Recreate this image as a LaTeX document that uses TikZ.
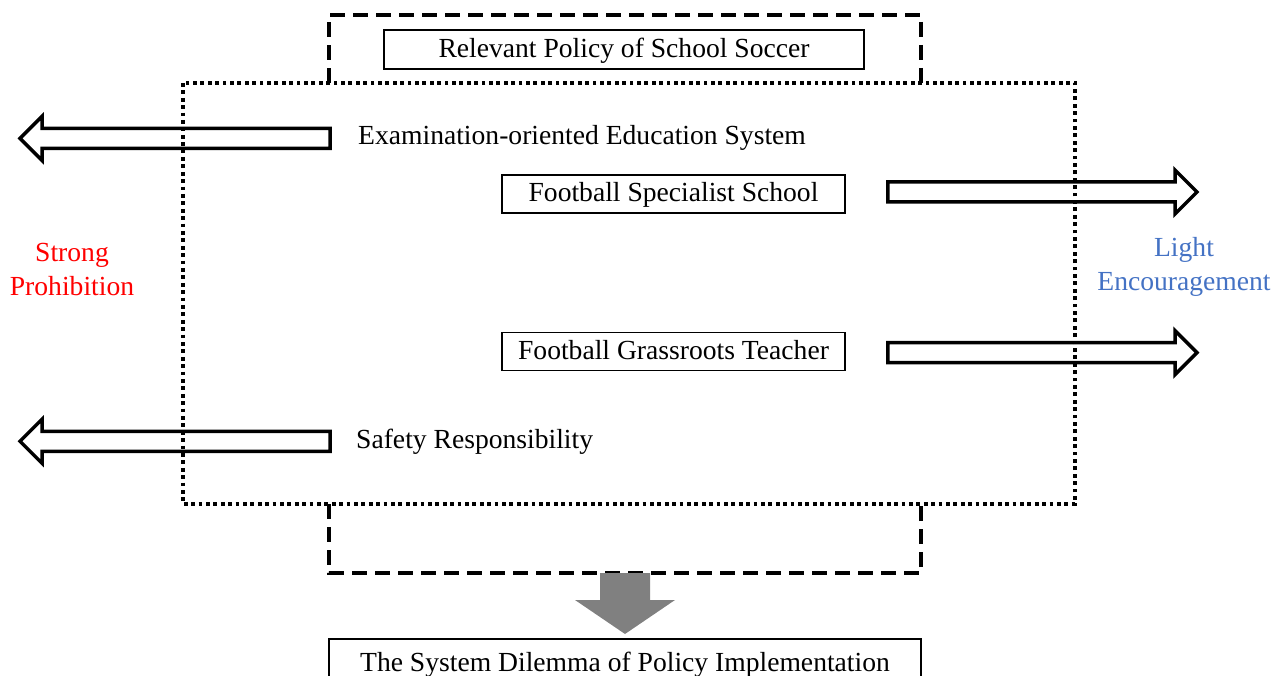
\documentclass[tikz,border=0pt]{standalone}
\usepackage{fontspec}
\setmainfont{Liberation Serif}
\usetikzlibrary{calc, positioning}

\definecolor{prohibred}{RGB}{255,0,0}
\definecolor{encblue}{RGB}{68,114,196}

% hollow block arrow from a tail coordinate to a tip coordinate (horizontal)
\newcommand{\blockarrow}[2]{%
  \draw[hollow] let \p1=(#1), \p2=(#2), \n1={22*sign(\x1-\x2)} in
    (\x1,\y1+10pt) -- (\x2+\n1,\y1+10pt) -- (\x2+\n1,\y1+22pt) -- (\x2,\y1)
    -- (\x2+\n1,\y1-22pt) -- (\x2+\n1,\y1-10pt) -- (\x1,\y1-10pt) -- cycle;}

\begin{document}
\begin{tikzpicture}[
    x=1pt, y=-1pt,
    font=\fontsize{27.6}{34}\selectfont,
    % Shapes
    box/.style={rectangle, draw=black, line width=1.6pt, inner sep=0pt, text centered,
                text height=19pt, text depth=3.5pt},
    plain/.style={inner sep=0pt},
    % Frames and arrows
    dashframe/.style={line width=3.5pt, dash pattern=on 15pt off 8pt},
    dotframe/.style={line width=3.8pt, dash pattern=on 3.8pt off 3.6pt},
    hollow/.style={draw=black, line width=3.5pt, line join=miter},
    dropdown/.style={fill=gray},
]
\useasboundingbox (0,0) rectangle (1274,676);

% 1. Policy frame (dashed) and the field it sits in (dotted)
\draw[dashframe] (329,83) -- (329,15) -- (921,15) -- (921,83);
\draw[dashframe] (329,504) -- (329,573) -- (921,573) -- (921,504);
\draw[dotframe] (183,83) rectangle (1075,504);

\node[box, minimum width=480, minimum height=39] (policy) at (624,49.5) {Relevant Policy of School Soccer};

% 2. Factors inside the field
\node[plain, anchor=base west] (exam) at (358,145) {Examination-oriented Education System};
\node[box, minimum width=343, minimum height=38] (special) at (673.5,194) {Football Specialist School};
\node[box, minimum width=343, minimum height=38, below=118pt of special] (grass) {Football Grassroots Teacher};
\node[plain, anchor=base west] (safety) at (356,448) {Safety Responsibility};

% 3. Side labels
\node[plain, align=center, text=prohibred] (prohib) at (72,269) {Strong\\Prohibition};
\node[plain, align=center, text=encblue] (encour) at (1184,267) {Light\\Encouragement};

% 4. Outcome
\node[box, minimum width=592, minimum height=50, anchor=north] (dilemma) at (625,638) {The System Dilemma of Policy Implementation};

% Arrow ends
\coordinate (leftEdge) at (20,0);
\coordinate (rightEdge) at (1197,0);
\coordinate (examTail) at ([xshift=-28pt]exam.west);
\coordinate (safetyTail) at ([xshift=-26pt]safety.west);
\coordinate (specialTail) at ([xshift=42pt, yshift=2pt]special.east);
\coordinate (grassTail) at ([xshift=42pt, yshift=-1pt]grass.east);
\coordinate (frameBot) at (625,573);

% Pushes and pulls
\blockarrow{examTail}{examTail -| leftEdge}
\blockarrow{safetyTail}{safetyTail -| leftEdge}
\blockarrow{specialTail}{specialTail -| rightEdge}
\blockarrow{grassTail}{grassTail -| rightEdge}

% Frame to outcome
\fill[dropdown] let \p1=(frameBot), \p2=(dilemma.north) in
    (\x1-25pt,\y1) -- (\x1-25pt,\y2+38pt) -- (\x1-50pt,\y2+38pt) -- (\x1,\y2+4pt)
    -- (\x1+50pt,\y2+38pt) -- (\x1+25pt,\y2+38pt) -- (\x1+25pt,\y1) -- cycle;

\end{tikzpicture}
\end{document}
